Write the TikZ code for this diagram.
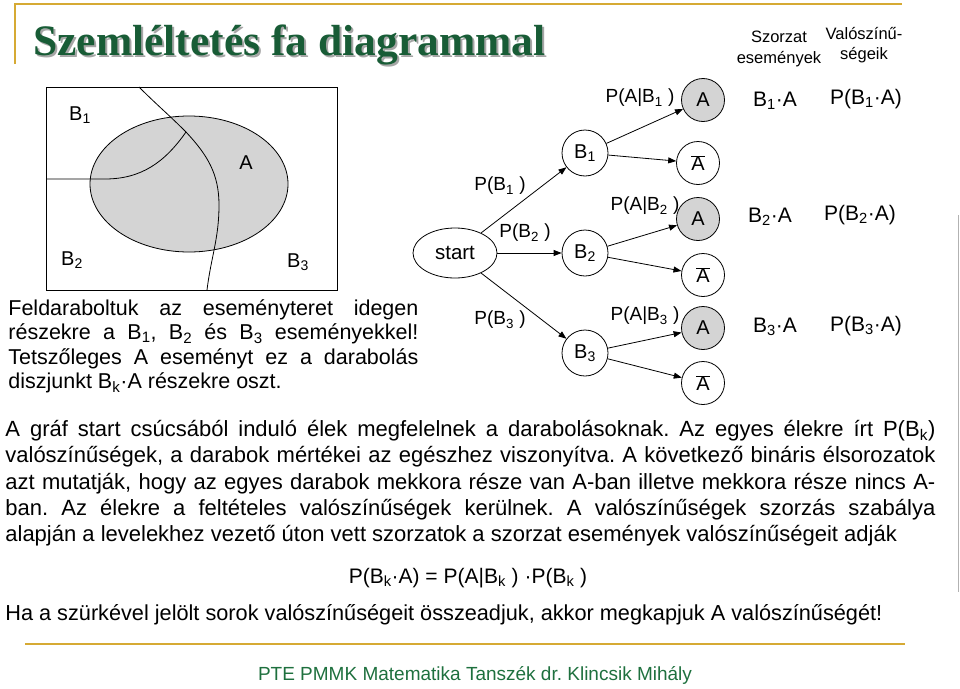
\documentclass[tikz,border=0pt]{standalone}
\usepackage{fontspec}
\setmainfont{Liberation Sans}
\newfontfamily\titlefont{Liberation Serif}
\usetikzlibrary{positioning,arrows.meta,shapes.geometric}

\definecolor{titlegreen}{RGB}{24,92,54}
\definecolor{footgreen}{RGB}{30,112,62}
\definecolor{rulegold}{RGB}{214,170,52}
\definecolor{evgray}{RGB}{212,212,212}

\newcommand{\ix}[1]{\textsubscript{#1}}
\newcommand{\Abar}{$\overline{\mbox{A}}$}
\hyphenpenalty=10000
\exhyphenpenalty=10000
\tolerance=9999
\frenchspacing

\begin{document}
\begin{tikzpicture}[x=1pt, y=1pt, line width=0.8pt, node distance=100pt,
    >={Triangle[length=8pt,width=6pt]},
    ev/.style = {draw, circle, minimum size=46pt, inner sep=0pt, font=\fontsize{20}{20}\selectfont},
    leaf/.style = {draw, circle, minimum size=43pt, inner sep=0pt, font=\fontsize{20}{20}\selectfont},
    hit/.style = {leaf, fill=evgray},
    lbl/.style = {inner sep=0pt, font=\fontsize{19}{19}\selectfont},
    prod/.style = {inner sep=0pt, font=\fontsize{21}{21}\selectfont},
    head/.style = {inner sep=0pt, align=center, font=\fontsize{16.5}{20.5}\selectfont}]
  \useasboundingbox (0,0) rectangle (960,-688);

  % frame and title
  \draw[rulegold, line width=2pt] (15,-64) -- (15,-4) -- (902,-4);
  \draw[rulegold, line width=2pt] (25,-644) -- (905,-644);
  \draw[black!30, line width=1pt] (958,-215) -- (958,-592);
  \node[anchor=base west, inner sep=0pt, text=black!35, font=\titlefont\bfseries\fontsize{43.5}{43.5}\selectfont] (shadow) at (35,-57) {Szemléltetés fa diagrammal};
  \node[anchor=base west, inner sep=0pt, text=titlegreen, font=\titlefont\bfseries\fontsize{43.5}{43.5}\selectfont] (title) at (33,-55) {Szemléltetés fa diagrammal};

  % the event space
  \draw (46,-87) rectangle (337,-290);
  \draw[fill=evgray] (189,-184) ellipse [x radius=99pt, y radius=68pt];
  \coordinate (cut) at (186,-132);
  \draw (139,-87) to[out=-45, in=135] (cut) to[out=-47, in=90] (219,-205) to[out=-90, in=83] (207,-290);
  \draw (46,-179) -- (105,-179) to[out=0, in=-125] (cut);
  \node[lbl, font=\fontsize{20}{20}\selectfont] (vB1) at (80,-115) {B\ix{1}};
  \node[lbl, font=\fontsize{20}{20}\selectfont] (vA) at (246,-163) {A};
  \node[lbl, font=\fontsize{20}{20}\selectfont] (vB2) at (72,-260) {B\ix{2}};
  \node[lbl, font=\fontsize{20}{20}\selectfont] (vB3) at (298,-262) {B\ix{3}};

  % the tree
  \node[draw, ellipse, minimum width=84pt, minimum height=50pt, inner sep=0pt, font=\fontsize{20.5}{20.5}\selectfont] (start) at (455,-253) {start};
  \node[ev] (B2) [right of=start, node distance=130pt] {B\ix{2}};
  \node[ev] (B1) [above of=B2] {B\ix{1}};
  \node[ev] (B3) [below of=B2] {B\ix{3}};
  \draw[->] (start) -- (B1);
  \draw[->] (start) -- (B2);
  \draw[->] (start) -- (B3);

  \node[hit] (A1) [right of=B1, xshift=18pt, yshift=53pt] {A};
  \node[leaf] (N1) [right of=B1, xshift=13pt, yshift=-10pt] {\Abar};
  \node[hit] (A2) [right of=B2, xshift=13pt, yshift=34pt] {A};
  \node[leaf] (N2) [right of=B2, xshift=18pt, yshift=-22pt] {\Abar};
  \node[hit] (A3) [right of=B3, xshift=18pt, yshift=25pt] {A};
  \node[leaf] (N3) [right of=B3, xshift=18pt, yshift=-30pt] {\Abar};
  \draw[->] (B1) -- (A1);
  \draw[->] (B1) -- (N1);
  \draw[->] (B2) -- (A2);
  \draw[->] (B2) -- (N2);
  \draw[->] (B3) -- (A3);
  \draw[->] (B3) -- (N3);

  \node[lbl] (pB1) at (500,-186) {P(B\ix{1} )};
  \node[lbl] (pB2) at (525,-233) {P(B\ix{2} )};
  \node[lbl] (pB3) at (500,-320) {P(B\ix{3} )};
  \node[lbl] (pA1) at (640,-98) {P(A|B\ix{1} )};
  \node[lbl] (pA2) at (645,-206) {P(A|B\ix{2} )};
  \node[lbl] (pA3) at (645,-316) {P(A|B\ix{3} )};

  % products and their probabilities
  \node[head] (hprod) at (779,-49) {Szorzat\\események};
  \node[head] (hprob) at (864,-45) {Valószínű-\\ségeik};
  \node[prod] (s1) at (775,-101) {B\ix{1}·A};
  \node[prod] (q1) at (866,-99) {P(B\ix{1}·A)};
  \node[prod] (s2) at (770,-217) {B\ix{2}·A};
  \node[prod] (q2) at (860,-215) {P(B\ix{2}·A)};
  \node[prod] (s3) at (775,-327) {B\ix{3}·A};
  \node[prod] (q3) at (866,-326) {P(B\ix{3}·A)};

  % the text
  \node[anchor=north west, inner sep=0pt, text width=410pt, align=justify, font=\fontsize{21.5}{24.5}\selectfont] (split) at (8,-299)
    {Feldaraboltuk az eseményteret idegen\linebreak részekre a B\ix{1}, B\ix{2} és B\ix{3} eseményekkel!\linebreak Tetszőleges A eseményt ez a darabolás\linebreak diszjunkt B\ix{k}·A részekre oszt.};
  \node[anchor=north west, inner sep=0pt, text width=930pt, align=justify, font=\fontsize{22}{26.3}\selectfont] (story) at (5,-420)
    {A gráf start csúcsából induló élek megfelelnek a darabolásoknak. Az egyes élekre írt P(B\ix{k})\linebreak valószínűségek, a darabok mértékei az egészhez viszonyítva. A következő bináris élsorozatok\linebreak azt mutatják, hogy az egyes darabok mekkora része van A-ban illetve mekkora része nincs A-\linebreak ban. Az élekre a feltételes valószínűségek kerülnek. A valószínűségek szorzás szabálya\linebreak alapján a levelekhez vezető úton vett szorzatok a szorzat események valószínűségeit adják};
  \node[lbl, font=\fontsize{21}{21}\selectfont] (rule) at (468,-578) {P(B\ix{k}·A) = P(A|B\ix{k} ) ·P(B\ix{k} )};
  \node[anchor=west, inner sep=0pt, font=\fontsize{21.7}{21.7}\selectfont] (sum) at (5,-615)
    {Ha a szürkével jelölt sorok valószínűségeit összeadjuk, akkor megkapjuk A valószínűségét!};
  \node[text=footgreen, inner sep=0pt, font=\fontsize{19}{19}\selectfont] (footer) at (475,-675) {PTE PMMK Matematika Tanszék dr. Klincsik Mihály};
\end{tikzpicture}
\end{document}
